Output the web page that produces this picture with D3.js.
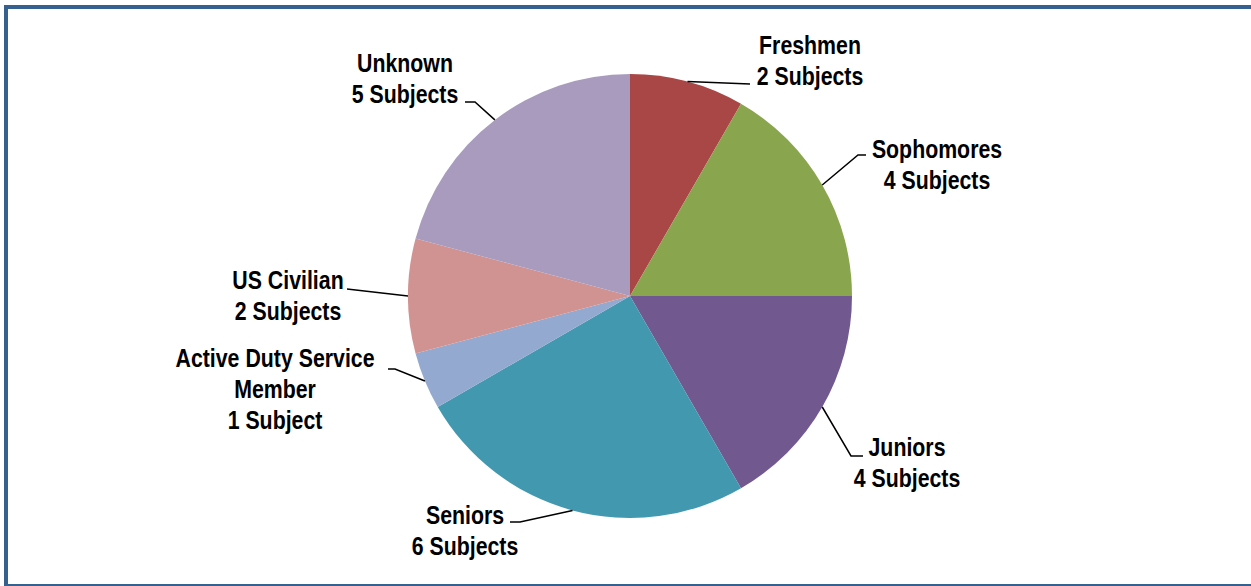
<!DOCTYPE html>
<html>
<head>
<meta charset="utf-8">
<script src="https://cdn.jsdelivr.net/npm/d3@7"></script>
<style>
  html, body { margin: 0; padding: 0; background: #fff; overflow: hidden; }
  svg { display: block; }
  text { font-family: "Liberation Sans", Arial, sans-serif; font-weight: bold; font-size: 26px; fill: #000; }
</style>
</head>
<body>
<svg id="chart" width="1251" height="586"></svg>
<script>
const categories = ["Freshmen", "Sophomores", "Juniors", "Seniors", "Active Duty Service Member", "US Civilian", "Unknown"];
const counts = [2, 4, 4, 6, 1, 2, 5];
const labelLines = [
  ["Freshmen", "2 Subjects"],
  ["Sophomores", "4 Subjects"],
  ["Juniors", "4 Subjects"],
  ["Seniors", "6 Subjects"],
  ["Active Duty Service", "Member", "1 Subject"],
  ["US Civilian", "2 Subjects"],
  ["Unknown", "5 Subjects"]
];
const colors = ["#A84745", "#89A54E", "#71588F", "#4198AF", "#93A9CF", "#D19392", "#A99BBD"];

// label layout: text center x, first baseline y, leader elbow points
const labelLayout = [
  { x: 810, y: 54, pts: [[750, 84]] },
  { x: 937, y: 158, pts: [[858, 155], [866, 155]] },
  { x: 907, y: 456, pts: [[851, 456], [863, 456]] },
  { x: 465, y: 524, pts: [[520, 522], [510, 522]] },
  { x: 275, y: 367, pts: [[395, 369], [388, 369]] },
  { x: 288, y: 289, pts: [[347, 289]] },
  { x: 405, y: 72, pts: [[475, 102], [465, 102]] }
];

const svg = d3.select("#chart");
const cx = 630, cy = 296, r = 222;

// frame (top, left, bottom; right edge runs off the picture)
const frame = svg.append("g").attr("stroke", "#36608F").attr("fill", "none");
frame.append("line").attr("x1", 4).attr("x2", 1251).attr("y1", 7).attr("y2", 7).attr("stroke-width", 4);
frame.append("line").attr("x1", 6).attr("x2", 6).attr("y1", 5).attr("y2", 586).attr("stroke-width", 4);
frame.append("line").attr("x1", 4).attr("x2", 1251).attr("y1", 585).attr("y2", 585).attr("stroke-width", 2);

const data = categories.map((c, i) => ({ cat: c, value: counts[i], i }));
const pie = d3.pie().value(d => d.value).sort(null);
const arcs = pie(data);
const arc = d3.arc().innerRadius(0).outerRadius(r);
const edgeArc = d3.arc().innerRadius(r).outerRadius(r);

const g = svg.append("g").attr("transform", `translate(${cx},${cy})`);
g.selectAll("path.slice")
  .data(arcs)
  .join("path")
  .attr("class", "slice")
  .attr("d", arc)
  .attr("fill", d => colors[d.data.i]);

// leader lines
const line = d3.line();
arcs.forEach((a, k) => {
  const c = edgeArc.centroid(a);
  const start = [cx + c[0], cy + c[1]];
  const pts = [start].concat(labelLayout[k].pts);
  svg.append("path")
    .attr("d", line(pts))
    .attr("fill", "none")
    .attr("stroke", "#000")
    .attr("stroke-width", 1.5);
});

// labels (horizontally condensed to mimic a narrow face)
labelLines.forEach((lines, k) => {
  const L = labelLayout[k];
  const t = svg.append("text")
    .attr("text-anchor", "middle")
    .attr("transform", `translate(${L.x},0) scale(0.82,1)`);
  lines.forEach((s, j) => {
    t.append("tspan").attr("x", 0).attr("y", L.y + j * 31).text(s);
  });
});
</script>
</body>
</html>
